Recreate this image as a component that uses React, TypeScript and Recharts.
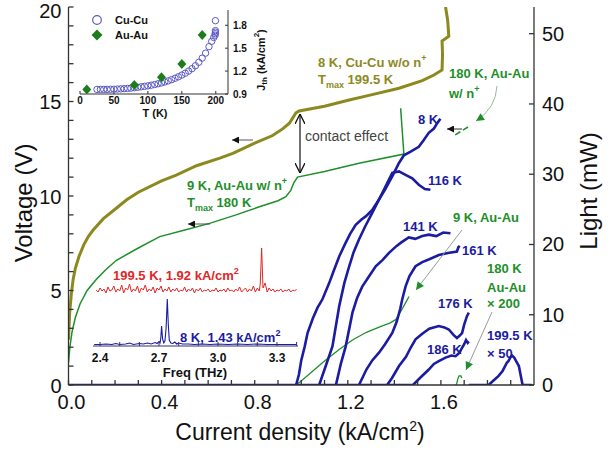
import { ComposedChart, Line, Scatter, XAxis, YAxis } from "recharts"

const FONT = '"Liberation Sans", Arial, Helvetica, sans-serif'
const OLIVE = "#8c8a1e"
const GREEN = "#1f8f2a"
const NAVY = "#1c1ca0"
const RED = "#e02626"
const AXIS = "#333"

// main chart: current density (kA/cm2) vs voltage (V)
const cuCuVoltage = [
  [0.0, 2.4], [0.005, 3.8], [0.012, 4.8], [0.02, 5.6], [0.03, 6.2], [0.045, 6.8], [0.065, 7.4],
  [0.085, 7.85], [0.106, 8.2], [0.15, 8.8], [0.2, 9.3], [0.25, 9.8], [0.3, 10.2], [0.4, 10.8],
  [0.463, 11.1], [0.55, 11.6], [0.65, 12.0], [0.706, 12.26], [0.8, 12.8], [0.877, 13.2],
  [0.92, 13.55], [0.949, 13.85], [0.977, 14.4], [0.991, 14.5], [1.1, 14.75], [1.206, 15.08],
  [1.3, 15.35], [1.42, 15.7], [1.52, 16.1], [1.57, 16.4], [1.605, 16.67], [1.607, 17.5],
  [1.605, 18.2], [1.634, 18.45], [1.629, 19.3], [1.62, 20],
]
const auAuVoltage = [
  [0.0, 1.2], [0.006, 2.0], [0.015, 2.8], [0.03, 3.6], [0.05, 4.3], [0.08, 5.0], [0.12, 5.6],
  [0.16, 6.1], [0.206, 6.6], [0.3, 7.25], [0.392, 7.85], [0.5, 8.2], [0.606, 8.55], [0.72, 9.0],
  [0.82, 9.43], [0.9, 9.75], [0.934, 9.96], [0.955, 10.3], [0.968, 10.7], [0.984, 11.0],
  [1.1, 11.3], [1.248, 11.73], [1.441, 12.22], [1.427, 14.64],
]

// light (mW) vs current density
const light8K = [
  [0, 0], [0.978, 0], [0.99, 1.5], [1.0, 3.5], [1.015, 5.5], [1.027, 7.4], [1.05, 9.5], [1.07, 11.0],
  [1.091, 12.2], [1.12, 14.5], [1.14, 16.3], [1.163, 18.3], [1.19, 20.2], [1.21, 21.5], [1.234, 22.8],
  [1.26, 23.6], [1.277, 24.0], [1.305, 24.9], [1.334, 26.4], [1.36, 27.8], [1.391, 29.7], [1.42, 31.6],
  [1.441, 32.7], [1.47, 33.2], [1.505, 33.9], [1.525, 34.8], [1.548, 35.9], [1.57, 36.5], [1.585, 37.3],
  [1.598, 37.9],
]
const light116K = [
  [0.978, 0], [1.077, 0], [1.1, 2.2], [1.134, 5.5], [1.163, 11.2], [1.185, 14.5], [1.206, 16.9],
  [1.225, 18.9], [1.248, 20.7], [1.275, 22.6], [1.305, 24.5], [1.348, 27.3], [1.391, 30.2], [1.42, 30.4],
  [1.448, 29.9], [1.477, 29.4], [1.505, 28.5], [1.531, 27.9], [1.555, 27.8],
]
const light141K = [
  [1.077, 0], [1.149, 0], [1.17, 3.0], [1.191, 5.5], [1.22, 10.3], [1.24, 12.4], [1.262, 14.0],
  [1.29, 15.4], [1.32, 16.9], [1.35, 17.8], [1.377, 18.8], [1.41, 19.8], [1.43, 20.3], [1.462, 21.0],
  [1.49, 20.8], [1.52, 21.2], [1.548, 21.4], [1.58, 21.2], [1.61, 21.7], [1.641, 21.6],
]
const light161K = [
  [1.149, 0], [1.248, 0], [1.28, 2.2], [1.305, 3.5], [1.334, 4.6], [1.36, 5.8], [1.391, 7.4],
  [1.41, 9.0], [1.425, 10.8], [1.434, 12.2], [1.448, 14.0], [1.465, 15.5], [1.491, 16.9], [1.52, 17.5],
  [1.55, 17.9], [1.591, 18.5], [1.63, 18.8], [1.669, 19.0], [1.675, 19.6], [1.681, 19.8],
]
const light176K = [
  [1.248, 0], [1.369, 0], [1.39, 1.0], [1.42, 2.7], [1.45, 4.0], [1.47, 5.3], [1.491, 6.5], [1.52, 7.3],
  [1.55, 8.0], [1.591, 8.4], [1.615, 8.2], [1.634, 7.9], [1.655, 7.1], [1.669, 6.7], [1.68, 7.0],
  [1.691, 7.4], [1.7, 8.6], [1.712, 9.8], [1.72, 10.3],
]
const light186K = [
  [1.369, 0], [1.48, 0], [1.51, 1.0], [1.548, 2.2], [1.57, 3.0], [1.591, 3.4], [1.62, 3.9], [1.645, 4.2],
  [1.663, 4.1], [1.68, 4.6], [1.691, 5.3], [1.7, 5.8], [1.708, 6.4], [1.715, 6.0], [1.72, 6.2],
]
const light199K = [
  [1.72, 0], [1.805, 0], [1.825, 0.6], [1.848, 1.3], [1.865, 2.0], [1.884, 3.2], [1.89, 3.4],
  [1.898, 3.9], [1.905, 4.2], [1.915, 3.9], [1.925, 3.3], [1.935, 2.7], [1.945, 1.0], [1.951, 0],
  [1.99, 0],
]
const lightAu9K = [
  [0.97, 0], [0.991, 0.33], [1.05, 2.0], [1.1, 3.4], [1.163, 5.06], [1.22, 6.4], [1.28, 7.5],
  [1.34, 8.3], [1.38, 8.8], [1.406, 9.3], [1.43, 10.6], [1.45, 11.8], [1.463, 12.6],
]
const lightAu180K = [[1.664, 0], [1.668, 0.2], [1.672, 0.8], [1.678, 1.3], [1.686, 1.3], [1.69, 1.0]]

// inset: threshold current vs temperature
const cuCuJth = [
  [25, 0.96], [30, 0.96], [35, 0.96], [40, 0.96], [45, 0.962], [50, 0.963], [55, 0.965], [60, 0.967],
  [65, 0.97], [70, 0.973], [75, 0.977], [80, 0.982], [85, 0.988], [90, 0.994], [95, 1.0], [100, 1.007],
  [105, 1.015], [110, 1.024], [115, 1.034], [120, 1.045], [125, 1.058], [130, 1.072], [135, 1.088],
  [140, 1.106], [145, 1.126], [150, 1.148], [155, 1.172], [160, 1.2], [165, 1.232], [170, 1.27],
  [175, 1.315], [180, 1.37], [185, 1.435], [190, 1.52], [194, 1.59], [197, 1.64], [199, 1.67],
  [199.3, 1.69], [199.5, 1.71], [199.5, 1.73], [199.5, 1.86],
]
const auAuJth = [[10, 0.96], [80, 1.018], [120, 1.119], [150, 1.293], [180, 1.672]]

// inset: lasing spectra (freq THz, offset amplitude)
const spectrum199K = [
  [2.38, 56], [2.39, 54], [2.4, 58], [2.41, 55], [2.42, 57], [2.43, 53], [2.44, 59], [2.45, 55],
  [2.46, 56], [2.47, 60], [2.48, 54], [2.49, 57], [2.5, 55], [2.51, 61], [2.52, 53], [2.53, 58],
  [2.54, 56], [2.55, 62], [2.56, 54], [2.57, 57], [2.58, 55], [2.59, 60], [2.6, 53], [2.61, 58],
  [2.62, 56], [2.63, 61], [2.64, 54], [2.65, 57], [2.66, 55], [2.67, 59], [2.68, 53], [2.69, 58],
  [2.7, 56], [2.71, 60], [2.72, 54], [2.73, 57], [2.74, 55], [2.75, 59], [2.76, 54], [2.77, 57],
  [2.78, 55], [2.79, 58], [2.8, 54], [2.81, 56], [2.82, 55], [2.83, 59], [2.84, 54], [2.85, 57],
  [2.86, 55], [2.87, 58], [2.88, 53], [2.89, 57], [2.9, 55], [2.91, 58], [2.92, 54], [2.93, 56],
  [2.94, 55], [2.95, 57], [2.96, 54], [2.97, 56], [2.98, 55], [2.99, 58], [3.0, 54], [3.01, 56],
  [3.02, 55], [3.03, 57], [3.04, 54], [3.05, 58], [3.06, 55], [3.07, 56], [3.08, 54], [3.09, 57],
  [3.1, 55], [3.11, 59], [3.12, 54], [3.13, 56], [3.14, 58], [3.15, 54], [3.16, 57], [3.17, 55],
  [3.18, 60], [3.19, 54], [3.2, 58], [3.21, 55], [3.215, 62], [3.222, 98], [3.229, 58], [3.24, 63],
  [3.25, 54], [3.26, 58], [3.27, 55], [3.28, 57], [3.29, 54], [3.3, 56], [3.31, 55], [3.32, 57],
  [3.33, 54], [3.34, 56], [3.35, 55], [3.36, 57], [3.37, 54], [3.38, 56], [3.39, 55], [3.4, 57],
]
const spectrum8K = [
  [2.37, 1.5], [2.4, 1.5], [2.43, 2], [2.46, 1.5], [2.48, 2.5], [2.5, 1.5], [2.53, 2], [2.55, 3],
  [2.57, 1.5], [2.6, 2.5], [2.62, 2], [2.64, 3], [2.66, 2], [2.68, 3.5], [2.69, 2.5], [2.7, 4.5],
  [2.705, 3], [2.709, 8], [2.713, 20], [2.718, 7], [2.724, 3], [2.73, 5], [2.736, 18], [2.742, 47],
  [2.747, 22], [2.752, 6], [2.76, 3], [2.77, 2.5], [2.78, 4], [2.79, 2], [2.8, 3], [2.82, 2],
  [2.85, 2], [2.88, 1.5], [2.92, 2], [2.96, 1.5], [3.0, 2], [3.05, 1.5], [3.1, 2], [3.15, 1.5],
  [3.2, 2], [3.25, 1.5], [3.3, 1.5], [3.35, 1.5], [3.4, 1.5],
]

// ticks
const jTicks = [0, 0.1, 0.2, 0.3, 0.4, 0.5, 0.6, 0.7, 0.8, 0.9, 1.0, 1.1, 1.2, 1.3, 1.4, 1.5, 1.6, 1.7, 1.8, 1.9]
const jLabels = [0, 0.4, 0.8, 1.2, 1.6]
const vTicks = [0, 1, 2, 3, 4, 5, 6, 7, 8, 9, 10, 11, 12, 13, 14, 15, 16, 17, 18, 19, 20]
const vLabels = [0, 5, 10, 15, 20]
const lightTicks = [0, 10, 20, 30, 40, 50]
const tTicks = [0, 50, 100, 150, 200]
const jthTicks = [0.9, 1.2, 1.5, 1.8]
const fTicks = [2.4, 2.5, 2.6, 2.7, 2.8, 2.9, 3.0, 3.1, 3.2, 3.3, 3.4]
const fLabels = [2.4, 2.7, 3.0, 3.3]

const xy = (a: number[][]) => a.map(([x, y]) => ({ x, y }))
const near = (list: number[], v: number) => list.some((m) => Math.abs(m - v) < 1e-6)

const JTick = (p: any) =>
  near(jLabels, p.payload.value) ? (
    <text x={p.x + 3} y={p.y + 20} textAnchor="middle" fontSize={20} fill="#111" fontFamily={FONT}>
      {p.payload.value.toFixed(1)}
    </text>
  ) : <g />
const VTick = (p: any) =>
  near(vLabels, p.payload.value) ? (
    <text x={p.x} y={p.y + (p.payload.value === 20 ? 11 : 7.5)} textAnchor="end" fontSize={20} fill="#111" fontFamily={FONT}>
      {p.payload.value}
    </text>
  ) : <g />
const LTick = (p: any) => (
  <text x={p.x} y={p.y + 7} textAnchor="start" fontSize={20} fill="#111" fontFamily={FONT}>
    {p.payload.value}
  </text>
)
const TTick = (p: any) => (
  <text x={p.x} y={p.y + 10} textAnchor="middle" fontSize={10} fontWeight="bold" fill="#111" fontFamily={FONT}>
    {p.payload.value}
  </text>
)
const JthTick = (p: any) => (
  <text x={p.x} y={p.y + 3.5} textAnchor="start" fontSize={10} fontWeight="bold" fill="#111" fontFamily={FONT}>
    {p.payload.value.toFixed(1)}
  </text>
)
const FTick = (p: any) =>
  near(fLabels, p.payload.value) ? (
    <text x={p.x} y={p.y + 16} textAnchor="middle" fontSize={12} fontWeight="bold" fill="#111" fontFamily={FONT}>
      {p.payload.value.toFixed(1)}
    </text>
  ) : <g />

const OpenCircle = (p: any) => <circle cx={p.cx} cy={p.cy} r={3.2} fill="none" stroke="#5a5ac4" strokeWidth={1} />
const Diamond = (p: any) => (
  <polygon
    points={`${p.cx},${p.cy - 5} ${p.cx + 4.5},${p.cy} ${p.cx},${p.cy + 5} ${p.cx - 4.5},${p.cy}`}
    fill="#1d7d1d"
  />
)

const blueCurves = [light8K, light116K, light141K, light161K, light176K, light186K, light199K]

function MainChart() {
  return (
    <ComposedChart width={612} height={456} margin={{ top: 7, right: 0, bottom: 0, left: 0 }}>
      <XAxis
        xAxisId="j" type="number" dataKey="x" domain={[0, 2]} ticks={jTicks} interval={0} allowDataOverflow
        height={71} tickSize={-5} tickMargin={9} tick={JTick} stroke={AXIS} strokeWidth={1.3}
      />
      <XAxis xAxisId="top" orientation="top" type="number" dataKey="x" domain={[0, 2]} height={0} tick={false} tickLine={false} stroke={AXIS} strokeWidth={1.3} />
      <YAxis
        yAxisId="v" type="number" dataKey="y" domain={[0, 20]} ticks={vTicks} interval={0} allowDataOverflow
        width={68.5} tickSize={-5} tickMargin={12} tick={VTick} stroke={AXIS} strokeWidth={1.3}
      />
      <YAxis
        yAxisId="l" orientation="right" type="number" dataKey="y" domain={[0, 53.8]} ticks={lightTicks} interval={0} allowDataOverflow
        width={78} tickSize={-5} tickMargin={13} tick={LTick} stroke={AXIS} strokeWidth={1.3}
      />
      <Line xAxisId="j" yAxisId="v" data={xy(cuCuVoltage)} dataKey="y" type="linear" stroke={OLIVE} strokeWidth={3} dot={false} isAnimationActive={false} />
      <Line xAxisId="j" yAxisId="v" data={xy(auAuVoltage)} dataKey="y" type="linear" stroke={GREEN} strokeWidth={1.5} dot={false} isAnimationActive={false} />
      <Line xAxisId="j" yAxisId="l" data={xy(lightAu9K)} dataKey="y" type="linear" stroke={GREEN} strokeWidth={1.3} dot={false} isAnimationActive={false} />
      <Line xAxisId="j" yAxisId="l" data={xy(lightAu180K)} dataKey="y" type="linear" stroke={GREEN} strokeWidth={1.3} dot={false} isAnimationActive={false} />
      {blueCurves.map((c, i) => (
        <Line key={i} xAxisId="j" yAxisId="l" data={xy(c)} dataKey="y" type="linear" stroke={NAVY} strokeWidth={2.6} dot={false} isAnimationActive={false} />
      ))}
    </ComposedChart>
  )
}

function SpectraInset() {
  return (
    <div style={{ position: "absolute", left: 85, top: 234 }}>
      <ComposedChart width={220} height={150} margin={{ top: 6, right: 7, bottom: 0, left: 8 }}>
        <XAxis
          type="number" dataKey="x" domain={[2.364, 3.407]} ticks={fTicks} interval={0} allowDataOverflow
          height={38} tickSize={-4} tickMargin={4} tick={FTick} stroke="#33336e"
        />
        <YAxis hide type="number" dataKey="y" domain={[0, 106]} />
        <Line data={xy(spectrum199K)} dataKey="y" type="linear" stroke={RED} strokeWidth={1} dot={false} isAnimationActive={false} />
        <Line data={xy(spectrum8K)} dataKey="y" type="linear" stroke={NAVY} strokeWidth={1.1} dot={false} isAnimationActive={false} />
      </ComposedChart>
    </div>
  )
}

function ThresholdInset() {
  const toTJ = (a: number[][]) => a.map(([t, j]) => ({ t, j }))
  return (
    <div style={{ position: "absolute", left: 70, top: 4 }}>
      <ComposedChart width={200} height={118} margin={{ top: 6, right: 0, bottom: 0, left: 10 }}>
        <XAxis
          xAxisId="t" type="number" dataKey="t" domain={[0, 218]} ticks={tTicks} interval={0} allowDataOverflow
          height={28} tickSize={-3} tickMargin={3} tick={TTick} stroke={AXIS}
        />
        <XAxis xAxisId="top" orientation="top" type="number" dataKey="t" domain={[0, 218]} height={0} tick={false} tickLine={false} stroke={AXIS} />
        <YAxis
          yAxisId="j" orientation="right" type="number" dataKey="j" domain={[0.9, 2.0]} ticks={jthTicks} interval={0} allowDataOverflow
          width={42} tickSize={-3} tickMargin={8} tick={JthTick} stroke={AXIS}
        />
        <YAxis yAxisId="left" orientation="left" type="number" dataKey="j" domain={[0.9, 2.0]} width={0} tick={false} tickLine={false} stroke={AXIS} />
        <Scatter xAxisId="t" yAxisId="j" data={toTJ(cuCuJth)} shape={OpenCircle} isAnimationActive={false} />
        <Scatter xAxisId="t" yAxisId="j" data={toTJ(auAuJth)} shape={Diamond} isAnimationActive={false} />
      </ComposedChart>
    </div>
  )
}

function Annotations() {
  const b = { fontWeight: "bold" as const, fontSize: 13 }
  return (
    <svg width={612} height={456} style={{ position: "absolute", left: 0, top: 0, pointerEvents: "none" }} fontFamily={FONT}>
      <defs>
        <marker id="ahBlack" viewBox="0 0 10 10" refX="10" refY="5" markerWidth="8" markerHeight="7" markerUnits="userSpaceOnUse" orient="auto-start-reverse">
          <path d="M0,0 L10,5 L0,10 z" fill="#111" />
        </marker>
        <marker id="ahOpen" viewBox="0 0 10 10" refX="10" refY="5" markerWidth="10" markerHeight="10" markerUnits="userSpaceOnUse" orient="auto-start-reverse">
          <path d="M0,0 L10,5 L0,10" fill="none" stroke="#111" strokeWidth="1.3" />
        </marker>
        <marker id="ahGreen" viewBox="0 0 10 10" refX="10" refY="5" markerWidth="9" markerHeight="8" markerUnits="userSpaceOnUse" orient="auto-start-reverse">
          <path d="M0,0 L10,5 L0,10 z" fill={GREEN} />
        </marker>
      </defs>

      {/* axis titles */}
      <text x={23} y={203} transform="rotate(-90 23 203)" textAnchor="middle" dominantBaseline="central" fontSize={24} fill="#111">Voltage (V)</text>
      <text x={588} y={191} transform="rotate(-90 588 191)" textAnchor="middle" dominantBaseline="central" fontSize={24} fill="#111">Light (mW)</text>
      <text x={300} y={440} textAnchor="middle" fontSize={23} fill="#111">
        Current density (kA/cm<tspan dy={-9} fontSize={14}>2</tspan><tspan dy={9}>)</tspan>
      </text>

      {/* threshold inset labels */}
      <circle cx={97} cy={20} r={4.3} fill="none" stroke="#5a5ac4" strokeWidth={1.2} />
      <polygon points="97,29.5 102.5,35 97,40.5 91.5,35" fill="#1d7d1d" />
      <text x={115} y={24} fontSize={11} fontWeight="bold" fill="#111">Cu-Cu</text>
      <text x={115} y={39} fontSize={11} fontWeight="bold" fill="#111">Au-Au</text>
      <text x={155} y={117} textAnchor="middle" fontSize={11} fontWeight="bold" fill="#111">T (K)</text>
      <text x={261} y={60} transform="rotate(-90 261 60)" textAnchor="middle" dominantBaseline="central" fontSize={11} fontWeight="bold" fill="#111">
        J<tspan dy={3} fontSize={8}>th</tspan><tspan dy={-3}> (kA/cm</tspan><tspan dy={-5} fontSize={8}>2</tspan><tspan dy={5}>)</tspan>
      </text>

      {/* spectra inset labels */}
      <text x={113} y={280} {...b} fill={RED}>
        199.5 K, 1.92 kA/cm<tspan dy={-6} fontSize={9}>2</tspan>
      </text>
      <text x={180} y={342} {...b} fill={NAVY}>
        8 K, 1.43 kA/cm<tspan dy={-6} fontSize={9}>2</tspan>
      </text>
      <text x={195} y={377} textAnchor="middle" fontSize={13} fontWeight="bold" fill="#111">Freq (THz)</text>

      {/* voltage curve labels */}
      <text x={318} y={67} {...b} fill={OLIVE}>
        8 K, Cu-Cu w/o n<tspan dy={-6} fontSize={9}>+</tspan>
      </text>
      <text x={318} y={84} {...b} fill={OLIVE}>
        T<tspan dy={4} fontSize={9}>max</tspan><tspan dy={-4}> 199.5 K</tspan>
      </text>
      <text x={187} y={190} {...b} fill={GREEN}>
        9 K, Au-Au w/ n<tspan dy={-6} fontSize={9}>+</tspan>
      </text>
      <text x={187} y={207} {...b} fill={GREEN}>
        T<tspan dy={4} fontSize={9}>max</tspan><tspan dy={-4}> 180 K</tspan>
      </text>
      <text x={305} y={141} fontSize={14} fill="#444">contact effect</text>
      <line x1={300} y1={114} x2={300} y2={173} stroke="#111" strokeWidth={1.2} markerStart="url(#ahOpen)" markerEnd="url(#ahOpen)" />
      <line x1={253} y1={140} x2={232} y2={140} stroke="#555" strokeWidth={1} markerEnd="url(#ahBlack)" />
      <line x1={210} y1={224} x2={188} y2={224} stroke="#555" strokeWidth={1} markerEnd="url(#ahBlack)" />

      <text x={449} y={78} {...b} fill={GREEN}>180 K, Au-Au</text>
      <text x={449} y={98} {...b} fill={GREEN}>
        w/ n<tspan dy={-6} fontSize={9}>+</tspan>
      </text>
      <path d="M497,86 Q496,108 476,121" fill="none" stroke="#9ab89a" strokeWidth={1} markerEnd="url(#ahGreen)" />
      <line x1={468} y1={127} x2={455} y2={135} stroke={GREEN} strokeWidth={1.6} strokeDasharray="6 3" />
      <line x1={462} y1={129} x2={447} y2={129} stroke="#333" strokeWidth={1} markerEnd="url(#ahBlack)" />

      {/* light curve labels */}
      <text x={418} y={124} {...b} fill={NAVY}>8 K</text>
      <text x={428} y={185} {...b} fill={NAVY}>116 K</text>
      <text x={403} y={231} {...b} fill={NAVY}>141 K</text>
      <text x={462} y={255} {...b} fill={NAVY}>161 K</text>
      <text x={438} y={308} {...b} fill={NAVY}>176 K</text>
      <text x={427} y={354} {...b} fill={NAVY}>186 K</text>
      <text x={487} y={340} {...b} fill={NAVY}>199.5 K</text>
      <text x={487} y={358} {...b} fill={NAVY}>× 50</text>
      <text x={453} y={222} {...b} fill={GREEN}>9 K, Au-Au</text>
      <text x={487} y={273} {...b} fill={GREEN}>180 K</text>
      <text x={487} y={292} {...b} fill={GREEN}>Au-Au</text>
      <text x={487} y={308} {...b} fill={GREEN}>× 200</text>
      <line x1={462} y1={230} x2={416} y2={290} stroke="#9a9a9a" strokeWidth={1} markerEnd="url(#ahGreen)" />
      <line x1={492} y1={312} x2={466} y2={370} stroke="#9a9a9a" strokeWidth={1} markerEnd="url(#ahGreen)" />
    </svg>
  )
}

export default function App() {
  return (
    <div style={{ position: "relative", width: 612, height: 456, background: "#fff", fontFamily: FONT }}>
      <style>{"body{margin:0}"}</style>
      <MainChart />
      <SpectraInset />
      <ThresholdInset />
      <Annotations />
    </div>
  )
}
